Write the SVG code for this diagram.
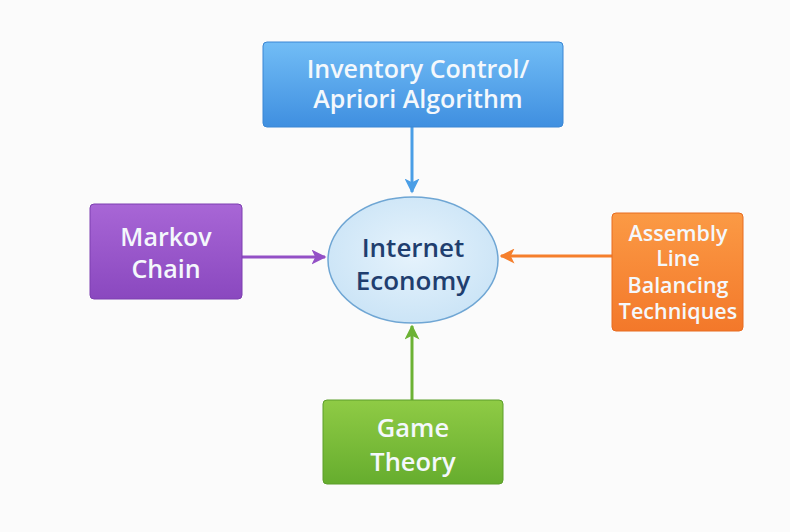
<svg xmlns="http://www.w3.org/2000/svg" width="790" height="532" viewBox="0 0 790 532">
<defs>
<linearGradient id="gBlue" x1="0" y1="0" x2="0" y2="1"><stop offset="0" stop-color="#72bdf6"/><stop offset="1" stop-color="#3f8fe0"/></linearGradient>
<linearGradient id="gPurple" x1="0" y1="0" x2="0" y2="1"><stop offset="0" stop-color="#a866d6"/><stop offset="1" stop-color="#8a48bf"/></linearGradient>
<linearGradient id="gOrange" x1="0" y1="0" x2="0" y2="1"><stop offset="0" stop-color="#fb9a45"/><stop offset="1" stop-color="#f3782a"/></linearGradient>
<linearGradient id="gGreen" x1="0" y1="0" x2="0" y2="1"><stop offset="0" stop-color="#8fcb45"/><stop offset="1" stop-color="#66ad2e"/></linearGradient>
<radialGradient id="gEll" cx="0.5" cy="0.45" r="0.6"><stop offset="0" stop-color="#e6f3fc"/><stop offset="1" stop-color="#c9e3f6"/></radialGradient>
<marker id="aBlue" viewBox="0 0 10 10" refX="9" refY="5" markerWidth="5" markerHeight="5" orient="auto"><path d="M0,0 L10,5 L0,10 L2.5,5 z" fill="#4a9ee6"/></marker>
<marker id="aPurple" viewBox="0 0 10 10" refX="9" refY="5" markerWidth="5" markerHeight="5" orient="auto"><path d="M0,0 L10,5 L0,10 L2.5,5 z" fill="#9350c6"/></marker>
<marker id="aOrange" viewBox="0 0 10 10" refX="9" refY="5" markerWidth="5" markerHeight="5" orient="auto"><path d="M0,0 L10,5 L0,10 L2.5,5 z" fill="#f57f2c"/></marker>
<marker id="aGreen" viewBox="0 0 10 10" refX="9" refY="5" markerWidth="5" markerHeight="5" orient="auto"><path d="M0,0 L10,5 L0,10 L2.5,5 z" fill="#6cb234"/></marker>
</defs>
<style>
text{font-family:"Open Sans","Noto Sans","DejaVu Sans",sans-serif;font-weight:600;text-anchor:middle}
.lt{fill:#f4f8fc}
.dk{fill:#1f3e6f;font-size:26px}
.c{stroke-width:3;fill:none}
</style>
<rect width="790" height="532" fill="#fbfbfb"/>
<g id="connectors">
<line class="c" x1="412" y1="127" x2="412" y2="192" stroke="#4a9ee6" marker-end="url(#aBlue)"/>
<line class="c" x1="242" y1="257" x2="325" y2="257" stroke="#9350c6" marker-end="url(#aPurple)"/>
<line class="c" x1="612" y1="256" x2="501" y2="256" stroke="#f57f2c" marker-end="url(#aOrange)"/>
<line class="c" x1="412" y1="400" x2="412" y2="326" stroke="#6cb234" marker-end="url(#aGreen)"/>
</g>
<g id="inventory">
<rect x="263" y="42" width="300" height="85" rx="4" fill="url(#gBlue)" stroke="#3a86d4" stroke-width="1"/>
<text class="lt" x="418" y="78" font-size="25">Inventory Control/</text>
<text class="lt" x="418" y="108" font-size="25">Apriori Algorithm</text>
</g>
<g id="markov">
<rect x="90" y="204" width="152" height="95" rx="4" fill="url(#gPurple)" stroke="#7d3fb0" stroke-width="1"/>
<text class="lt" x="166" y="246" font-size="25">Markov</text>
<text class="lt" x="166" y="278" font-size="25">Chain</text>
</g>
<g id="internet">
<ellipse cx="413" cy="260" rx="85" ry="63" fill="url(#gEll)" stroke="#6fa6d4" stroke-width="1.5"/>
<text class="dk" x="413" y="257">Internet</text>
<text class="dk" x="413" y="290">Economy</text>
</g>
<g id="assembly">
<rect x="612" y="213" width="131" height="118" rx="4" fill="url(#gOrange)" stroke="#e86c20" stroke-width="1"/>
<text class="lt" x="678" y="241" font-size="21.5">Assembly</text>
<text class="lt" x="678" y="266" font-size="21.5">Line</text>
<text class="lt" x="678" y="293" font-size="21.5">Balancing</text>
<text class="lt" x="678" y="319" font-size="21.5">Techniques</text>
</g>
<g id="game">
<rect x="323" y="400" width="180" height="84" rx="4" fill="url(#gGreen)" stroke="#5c9e2a" stroke-width="1"/>
<text class="lt" x="413" y="437" font-size="25.5">Game</text>
<text class="lt" x="413" y="471" font-size="25.5">Theory</text>
</g>
</svg>
